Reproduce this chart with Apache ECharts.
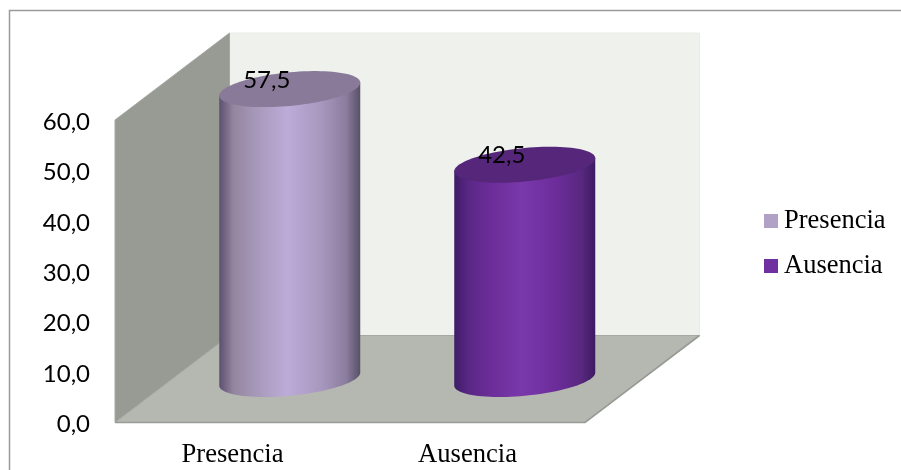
<!DOCTYPE html>
<html>
<head>
<meta charset="utf-8">
<style>
  html, body { margin: 0; padding: 0; background: #fff; }
  #chart { width: 901px; height: 470px; }
</style>
<script src="https://cdn.jsdelivr.net/npm/echarts@6/dist/echarts.min.js"></script>
</head>
<body>
<div id="chart"></div>
<script>
const categories = ['Presencia', 'Ausencia'];
const values = [57.5, 42.5];
const tickMax = 60;
const tickStep = 10;
const swatchColors = ['#b2a1c7', '#7030a0'];
const topColors = ['#887a98', '#552679'];
const bodyStops = [
  ['#5c5070', '#94859f', '#a597b8', '#bdabd8', '#a898bf', '#8b7d9e', '#585068'],
  ['#3d1c66', '#5a2785', '#6b2d99', '#7a38aa', '#6c2d9b', '#59287f', '#3c1b62']
];
const stopOffsets = [0, 0.1, 0.25, 0.48, 0.72, 0.9, 1];

const decimalComma = v => v.toFixed(1).replace('.', ',');

// Depth of the 3D box, in pixels, and the cylinder's projected ellipse.
const depthX = 114.5, depthY = 87;
const radiusX = 70.5, radiusY = 16.8, tilt = 6.5;

function ellipsePoint(cx, cy, t) {
  return [
    cx + radiusX * Math.cos(t),
    cy - tilt * Math.cos(t) + radiusY * Math.sin(t)
  ];
}

function renderBox(params, api) {
  const cs = params.coordSys;
  const x0 = cs.x, x1 = cs.x + cs.width;
  const yBase = api.coord([0, 0])[1];
  const yTop = api.coord([0, tickMax])[1];
  const wall = (points, fill, stroke, lineWidth) => ({
    type: 'polygon',
    shape: { points },
    style: { fill, stroke: stroke || fill, lineWidth: lineWidth || 1 }
  });
  return {
    type: 'group',
    children: [
      wall([[x0 + depthX, yTop - depthY], [x1 + depthX, yTop - depthY], [x1 + depthX, yBase - depthY], [x0 + depthX, yBase - depthY]], '#eff2ec', '#e9ece6'),
      wall([[x0, yTop], [x0 + depthX, yTop - depthY], [x0 + depthX, yBase - depthY], [x0, yBase]], '#989b94', '#a5a8a2'),
      wall([[x0, yBase], [x0 + depthX, yBase - depthY], [x1 + depthX, yBase - depthY], [x1, yBase]], '#b5b8b1', '#a6a8a3'),
      {
        type: 'polyline',
        shape: { points: [[x0, yBase], [x1, yBase], [x1 + depthX, yBase - depthY]] },
        style: { fill: 'none', stroke: '#999b97', lineWidth: 1.6 }
      }
    ]
  };
}

function renderCylinder(index) {
  return function (params, api) {
    const value = api.value(1);
    const anchor = api.coord([api.value(0), value]);
    const base = api.coord([api.value(0), 0]);
    const cx = anchor[0] + depthX / 2;
    const topY = anchor[1] - depthY / 2;
    const baseY = base[1] - depthY / 2;

    const body = [[cx - radiusX, topY + tilt]];
    for (let i = 0; i <= 48; i++) {
      body.push(ellipsePoint(cx, baseY, Math.PI - Math.PI * i / 48));
    }
    body.push([cx + radiusX, topY - tilt]);

    const lid = [];
    for (let i = 0; i < 96; i++) {
      lid.push(ellipsePoint(cx, topY, 2 * Math.PI * i / 96));
    }

    return {
      type: 'group',
      children: [
        {
          type: 'polygon',
          shape: { points: body },
          style: {
            fill: new echarts.graphic.LinearGradient(0, 0, 1, 0,
              stopOffsets.map((offset, k) => ({ offset, color: bodyStops[index][k] })))
          }
        },
        {
          type: 'polygon',
          shape: { points: lid },
          style: { fill: topColors[index] }
        },
        {
          type: 'text',
          style: {
            x: cx - 23,
            y: topY - 9,
            text: decimalComma(value),
            fill: '#000',
            font: '24px Lato',
            align: 'center',
            verticalAlign: 'middle'
          }
        }
      ]
    };
  };
}

const chart = echarts.init(document.getElementById('chart'), null, { renderer: 'canvas' });

chart.setOption({
  animation: false,
  backgroundColor: '#fff',
  graphic: [{
    type: 'polyline',
    silent: true,
    shape: { points: [[9.5, 475], [9.5, 10.5], [906, 10.5]] },
    style: { fill: 'none', stroke: '#9a9a9a', lineWidth: 1.5 }
  }],
  legend: {
    data: categories,
    orient: 'vertical',
    left: 759,
    top: 198,
    icon: 'rect',
    itemWidth: 14,
    itemHeight: 14,
    itemGap: 9,
    selectedMode: false,
    textStyle: {
      fontFamily: 'Liberation Serif',
      fontSize: 26.5,
      color: '#000',
      lineHeight: 30,
      padding: [6, 0, 0, 1]
    }
  },
  grid: { left: 115, right: 316, top: 120, bottom: 47.5 },
  xAxis: {
    type: 'category',
    data: categories,
    axisLine: { show: false },
    axisTick: { show: false },
    axisLabel: {
      fontFamily: 'Liberation Serif',
      fontSize: 26.6,
      color: '#000',
      margin: 19
    }
  },
  yAxis: {
    type: 'value',
    min: 0,
    max: tickMax,
    interval: tickStep,
    axisLine: { show: false },
    axisTick: { show: false },
    splitLine: { show: false },
    axisLabel: {
      margin: 25,
      formatter: v => '{tick|' + decimalComma(v) + '}',
      rich: {
        tick: {
          fontFamily: 'Lato',
          fontSize: 24,
          color: '#000',
          padding: [4, 0, 0, 0]
        }
      }
    }
  },
  series: [
    {
      type: 'custom',
      name: 'box',
      silent: true,
      renderItem: renderBox,
      data: [[0, 0]]
    }
  ].concat(categories.map((name, i) => ({
    type: 'custom',
    name,
    silent: true,
    renderItem: renderCylinder(i),
    itemStyle: { color: swatchColors[i] },
    encode: { x: 0, y: 1 },
    data: [[i, values[i]]]
  })))
});
</script>
</body>
</html>
